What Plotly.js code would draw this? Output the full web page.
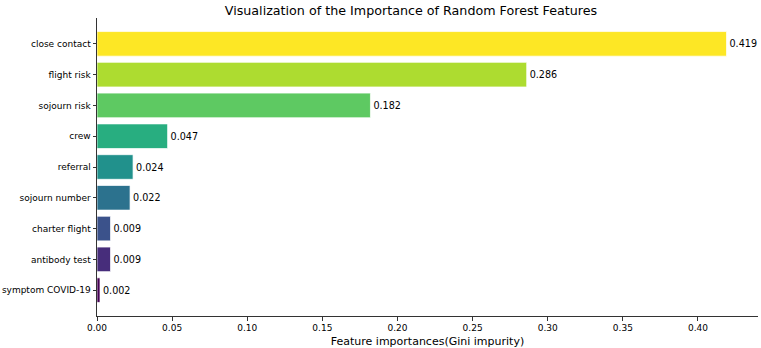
<!DOCTYPE html>
<html>
<head>
<meta charset="utf-8">
<script src="https://cdn.plot.ly/plotly-3.0.1.min.js"></script>
<style>html,body{margin:0;padding:0;background:#fff;}#chart{width:761px;height:348px;}</style>
</head>
<body>
<div id="chart"></div>
<script>
const features = ["close contact","flight risk","sojourn risk","crew","referral","sojourn number","charter flight","antibody test","symptom COVID-19"];
const importances = [0.419,0.286,0.182,0.047,0.024,0.022,0.009,0.009,0.002];
const barColors = ["#fde725","#addc30","#5ec962","#28ae80","#21918c","#2c728e","#3b528b","#472d7b","#440154"];
const xTicks = [0,0.05,0.10,0.15,0.20,0.25,0.30,0.35,0.40];
const xTickLabels = ["0.00","0.05","0.10","0.15","0.20","0.25","0.30","0.35","0.40"];

const font = "DejaVu Sans, sans-serif";
const trace = {
  type: "bar",
  orientation: "h",
  y: features,
  x: importances,
  width: 0.8,
  marker: {color: barColors, line: {color: "rgba(255,255,255,0.7)", width: 1}},
  text: importances.map(v => v.toFixed(3)),
  textposition: "outside",
  textfont: {family: font, size: 9.6, color: "#000"},
  cliponaxis: false,
  hoverinfo: "x+y"
};
const maxV = Math.max(...importances);
const layout = {
  width: 761, height: 348,
  margin: {l: 97, r: 3, t: 18, b: 32},
  paper_bgcolor: "#fff", plot_bgcolor: "#fff",
  showlegend: false,
  font: {family: font, size: 9, color: "#000"},
  title: {text: "Visualization of the Importance of Random Forest Features", font: {family: font, size: 12.7, color: "#000"}, x: 0.54, xref: "container", xanchor: "center", y: 0.97, yref: "container", yanchor: "middle"},
  xaxis: {
    range: [0, maxV * 1.05],
    tickvals: xTicks, ticktext: xTickLabels,
    ticks: "outside", ticklen: 3.5, tickwidth: 0.8, tickcolor: "#000",
    showline: true, linecolor: "#333", linewidth: 1,
    showgrid: false, zeroline: false,
    tickfont: {family: font, size: 9, color: "#000"},
    title: {text: "Feature importances(Gini impurity)", font: {family: font, size: 11, color: "#000"}, standoff: 5}
  },
  yaxis: {
    autorange: false,
    range: [features.length - 1 + 0.84, -0.84],
    ticks: "outside", ticklen: 3.5, tickwidth: 0.8, tickcolor: "#000",
    showline: true, linecolor: "#333", linewidth: 1,
    showgrid: false, zeroline: false,
    tickfont: {family: font, size: 9, color: "#000"}
  },
  bargap: 0.2
};
Plotly.newPlot("chart", [trace], layout, {displayModeBar: false, staticPlot: true});
</script>
</body>
</html>
